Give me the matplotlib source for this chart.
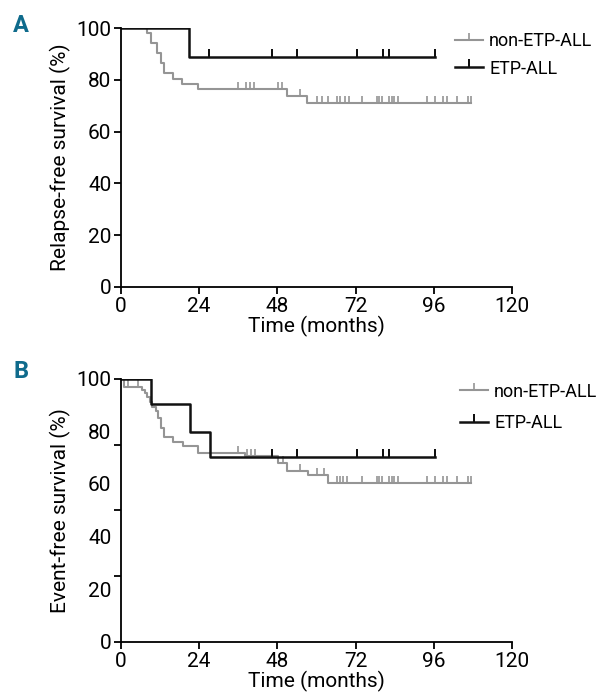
import numpy as np
import matplotlib.pyplot as plt

plt.rcParams['font.family'] = ['Liberation Sans Narrow', 'Roboto', 'DejaVu Sans']

# panel A: relapse-free survival
a_non_times = [0, 8.1, 9.2, 10.9, 12.2, 13.3, 16.1, 18.8, 23.7, 50.9, 57.2]
a_non_surv = [100, 97.9, 94.3, 90.2, 86.4, 82.5, 80.2, 78.3, 76.6, 73.7, 70.9]
a_non_cens = [1.0, 2.1, 4.9, 5.8, 6.5, 7.4, 36.0, 38.4, 39.6, 40.9, 48.3, 49.3,
              54.9, 60.1, 61.8, 63.6, 66.2, 67.2, 68.8, 70.1, 73.9, 78.5, 79.3,
              80.0, 82.4, 83.1, 83.9, 85.1, 93.8, 96.4, 98.9, 100.2, 103.0,
              106.6, 107.4]
a_etp_times = [0, 21.0]
a_etp_surv = [100, 88.7]
a_etp_cens = [8.7, 27.1, 46.2, 53.9, 72.3, 80.3, 82.3, 96.3]

# panel B: event-free survival
b_non_times = [0, 1.0, 6.3, 7.4, 8.1, 8.8, 9.6, 10.6, 11.3, 12.3, 13.3, 16.1,
               19.1, 23.7, 38.1, 48.3, 50.9, 57.5, 63.6]
b_non_surv = [100, 97.0, 95.7, 94.4, 92.9, 91.3, 89.4, 87.7, 84.9, 81.4, 77.9,
              76.0, 74.5, 71.7, 70.6, 67.9, 65.1, 63.3, 60.4]
b_non_cens = [2.2, 5.1, 36.0, 38.6, 40.0, 41.2, 49.6, 55.0, 60.2, 62.3, 66.2,
              67.2, 68.2, 69.5, 74.0, 78.5, 79.3, 80.0, 82.4, 83.1, 83.9, 85.1,
              93.8, 96.4, 98.9, 100.2, 103.0, 106.6, 107.4]
b_etp_times = [0, 9.1, 21.2, 27.3]
b_etp_surv = [100, 90.4, 79.8, 70.3]
b_etp_cens = [46.2, 54.1, 72.3, 80.3, 82.3, 96.3]

x_ticks = [0, 24, 48, 72, 96, 120]
labels = ['non-ETP-ALL', 'ETP-ALL']
GRAY = '#959595'
BLACK = '#111111'
TEAL = '#0f6b8c'


def km(ax, times, surv, cens, color, lw, ms, label):
    end = max(cens)
    xs = list(times) + [end]
    ys = list(surv) + [surv[-1]]
    ax.step(xs, ys, where='post', color=color, lw=lw)
    idx = np.searchsorted(times, cens, side='right') - 1
    cy = np.array(surv)[idx]
    ax.plot(cens, cy, linestyle='none', marker=2, ms=ms, mew=lw * 0.8,
            color=color)
    ax.plot([], [], color=color, lw=lw, marker=2, ms=ms, mew=lw * 0.8,
            label=label)


def style(ax, ylabel, leg_x, spacing):
    for s in ['top', 'right']:
        ax.spines[s].set_visible(False)
    for s in ['left', 'bottom']:
        ax.spines[s].set_linewidth(1.3)
    ax.set_xlim(0, 120)
    ax.set_ylim(0, 100)
    ax.set_xticks(x_ticks)
    ax.tick_params(labelsize=15, length=5, width=1.3, pad=2)
    ax.set_xlabel('Time (months)', fontsize=15, labelpad=0)
    ax.set_ylabel(ylabel, fontsize=15, labelpad=4)
    ax.legend(loc='upper left', bbox_to_anchor=(leg_x, 0.985), frameon=False,
              fontsize=13, handlelength=1.55, handletextpad=0.35,
              labelspacing=spacing, borderaxespad=0, borderpad=0)


fig = plt.figure(figsize=(6.08, 7.0), dpi=100)
axA = fig.add_axes([0.199, 0.59, 0.643, 0.37])
axB = fig.add_axes([0.199, 0.083, 0.643, 0.376])

km(axA, a_non_times, a_non_surv, a_non_cens, GRAY, 1.5, 5, labels[0])
km(axA, a_etp_times, a_etp_surv, a_etp_cens, BLACK, 1.8, 6, labels[1])
style(axA, 'Relapse-free survival (%)', 0.854, 0.55)
axA.set_yticks([0, 20, 40, 60, 80, 100])

km(axB, b_non_times, b_non_surv, b_non_cens, GRAY, 1.5, 5, labels[0])
km(axB, b_etp_times, b_etp_surv, b_etp_cens, BLACK, 1.8, 6, labels[1])
style(axB, 'Event-free survival (%)', 0.867, 0.75)
axB.set_yticks([0, 25, 50, 75, 100])
axB.set_yticklabels(['0', '', '', '', '100'])
axB.set_yticks([20, 40, 60, 80], minor=True)
axB.set_yticklabels(['20', '40', '60', '80'], minor=True)
axB.tick_params(axis='y', which='minor', length=0, labelsize=15, pad=7)

fig.text(0.022, 0.963, 'A', fontsize=17, fontweight='bold', color=TEAL,
         va='center', family=['Roboto', 'DejaVu Sans'])
fig.text(0.022, 0.47, 'B', fontsize=17, fontweight='bold', color=TEAL,
         va='center', family=['Roboto', 'DejaVu Sans'])

fig.savefig('out.png', dpi=100)
